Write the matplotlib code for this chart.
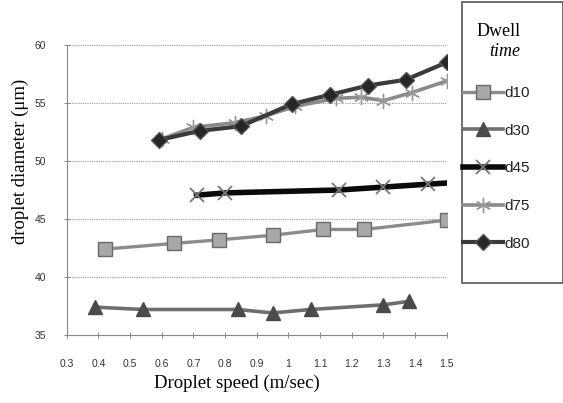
import matplotlib
matplotlib.use("Agg")
import matplotlib.pyplot as plt
from matplotlib.patches import Rectangle

# ---- data ----
x_ticks = [0.3, 0.4, 0.5, 0.6, 0.7, 0.8, 0.9, 1.0, 1.1, 1.2, 1.3, 1.4, 1.5]
x_tick_labels = ["0.3", "0.4", "0.5", "0.6", "0.7", "0.8", "0.9", "1", "1.1", "1.2", "1.3", "1.4", "1.5"]
y_ticks = [35, 40, 45, 50, 55, 60]

d10_x = [0.42, 0.64, 0.78, 0.95, 1.11, 1.24, 1.5]
d10_y = [42.4, 42.9, 43.2, 43.6, 44.1, 44.1, 44.9]

d30_x = [0.39, 0.54, 0.84, 0.95, 1.07, 1.30, 1.38]
d30_y = [37.4, 37.2, 37.2, 36.9, 37.2, 37.6, 37.9]

d45_x = [0.71, 0.80, 1.16, 1.30, 1.44, 1.50]
d45_y = [47.05, 47.25, 47.5, 47.75, 48.0, 48.1]

d75_x = [0.60, 0.70, 0.83, 0.93, 1.02, 1.15, 1.23, 1.30, 1.39, 1.50]
d75_y = [51.9, 52.9, 53.3, 53.9, 54.7, 55.4, 55.5, 55.2, 55.9, 56.9]

d80_x = [0.59, 0.72, 0.85, 1.01, 1.13, 1.25, 1.37, 1.50]
d80_y = [51.8, 52.6, 53.0, 54.9, 55.7, 56.5, 57.0, 58.5]

series_names = ["d10", "d30", "d45", "d75", "d80"]

W, H = 563, 403
fig = plt.figure(figsize=(W / 100, H / 100), dpi=100)
ax = fig.add_axes([66.7 / W, 1 - 335 / H, (446.7 - 66.7) / W, (335 - 45) / H])

styles = {
    "d10": dict(color="#8c8c8c", lw=2.4, marker="s", ms=10, mfc="#a8a8a8", mec="#6a6a6a", mew=1.0),
    "d30": dict(color="#6e6e6e", lw=2.6, marker="^", ms=10, mfc="#4a4a4a", mec="#4a4a4a", mew=1.0),
    "d45": dict(color="#0a0a0a", lw=4.0, marker="x", ms=10, mfc="none", mec="#777777", mew=1.3,
                markevery=list(range(len(d45_x) - 1))),
    "d75": dict(color="#8a8a8a", lw=2.6, marker=(6, 2, 0), ms=11, mfc="none", mec="#9a9a9a", mew=1.0),
    "d80": dict(color="#3a3a3a", lw=3.0, marker="D", ms=8, mfc="#262626", mec="#555555", mew=1.0),
}
data = {
    "d10": (d10_x, d10_y),
    "d30": (d30_x, d30_y),
    "d45": (d45_x, d45_y),
    "d75": (d75_x, d75_y),
    "d80": (d80_x, d80_y),
}
handles = []
for name in series_names:
    xs, ys = data[name]
    ln, = ax.plot(xs, ys, label=name, zorder=3, **styles[name])
    handles.append(ln)

ax.set_xlim(0.3, 1.5)
ax.set_ylim(35, 60)
ax.set_xticks(x_ticks)
ax.set_xticklabels(x_tick_labels)
ax.set_yticks(y_ticks)
ax.yaxis.grid(True, color="#9a9a9a", lw=0.8, ls=(0, (1, 1)))
ax.set_axisbelow(True)
for s in ["top", "right"]:
    ax.spines[s].set_visible(False)
for s in ["left", "bottom"]:
    ax.spines[s].set_color("#8a8a8a")
    ax.spines[s].set_linewidth(0.8)
    ax.spines[s].set_linestyle((0, (2, 1)))
ax.tick_params(axis="both", direction="inout", length=4, width=0.7, color="#8a8a8a",
               labelsize=7.5, labelcolor="#333333")
ax.tick_params(axis="y", pad=13)
ax.tick_params(axis="x", pad=15)
for lab in ax.get_xticklabels() + ax.get_yticklabels():
    lab.set_family("Liberation Sans")

fig.text(20 / W, 1 - 161 / H, "droplet diameter (\u03bcm)", rotation=90, ha="center", va="center",
         family="Liberation Serif", fontsize=13.5)
fig.text(237 / W, 1 - 383 / H, "Droplet speed (m/sec)", ha="center", va="center",
         family="Liberation Serif", fontsize=13.5)

# legend box
fig.patches.append(Rectangle((461.7 / W, 1 - 283 / H), (W - 461.7) / W, (283 - 2) / H,
                             transform=fig.transFigure, fill=False, ec="#555555", lw=1.2))
fig.text(499 / W, 1 - 32 / H, "Dwell", ha="center", va="center", family="Liberation Serif", fontsize=13)
fig.text(505 / W, 1 - 51 / H, "time", ha="center", va="center", family="Liberation Serif",
         style="italic", fontsize=13)
leg = fig.legend(handles=handles, loc="upper left", bbox_to_anchor=(463 / W, 1 - 86 / H),
                 frameon=False, prop={"family": "Liberation Sans", "size": 11},
                 labelspacing=1.55, handlelength=2.6, handletextpad=0.1, borderaxespad=0,
                 borderpad=0)
for t in leg.get_texts():
    t.set_color("#222222")

fig.savefig("out.png", dpi=100)
